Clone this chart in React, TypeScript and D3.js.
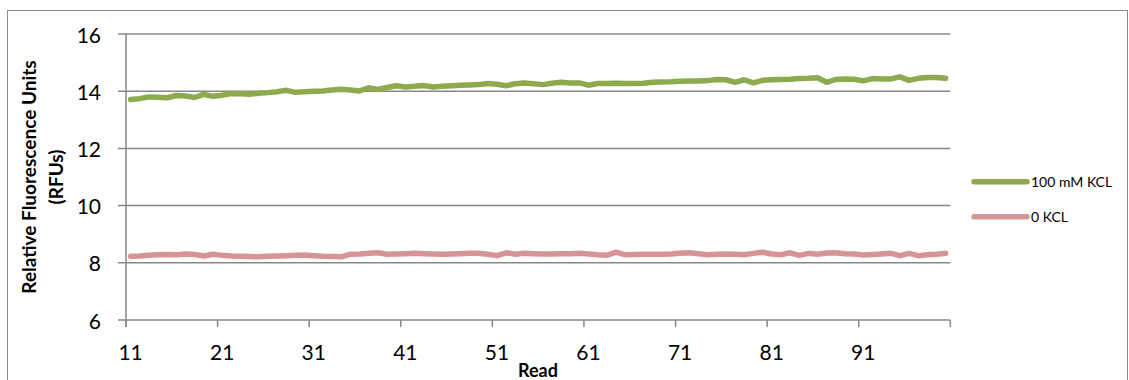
import React from "react";
import * as d3 from "d3";

// Read numbers on the category axis
const reads: number[] = d3.range(11, 101);
const xTickLabels: number[] = [11, 21, 31, 41, 51, 61, 71, 81, 91];
const yTicks: number[] = [6, 8, 10, 12, 14, 16];

const seriesNames = ["100 mM KCL", "0 KCL"];

// Relative fluorescence per read, 100 mM KCL
const kcl100: number[] = [
  13.71, 13.74, 13.8, 13.79, 13.77, 13.85, 13.83, 13.78, 13.89, 13.82,
  13.86, 13.92, 13.91, 13.89, 13.93, 13.95, 13.98, 14.03, 13.96, 13.98,
  14.0, 14.01, 14.04, 14.07, 14.04, 14.01, 14.12, 14.06, 14.13, 14.19,
  14.15, 14.17, 14.2, 14.15, 14.17, 14.19, 14.21, 14.22, 14.23, 14.27,
  14.24, 14.19, 14.26, 14.29, 14.26, 14.23, 14.28, 14.31, 14.29, 14.29,
  14.21, 14.27, 14.27, 14.28, 14.27, 14.27, 14.28, 14.31, 14.32, 14.33,
  14.35, 14.36, 14.36, 14.37, 14.41, 14.4, 14.31, 14.4, 14.29, 14.38,
  14.4, 14.41, 14.42, 14.44, 14.45, 14.47, 14.31, 14.41, 14.43, 14.42,
  14.36, 14.44, 14.43, 14.43, 14.5, 14.38, 14.45, 14.48, 14.48, 14.45,
];

// Relative fluorescence per read, 0 KCL
const kcl0: number[] = [
  8.23, 8.24, 8.26, 8.28, 8.29, 8.28, 8.31, 8.29, 8.24, 8.3,
  8.26, 8.24, 8.23, 8.22, 8.21, 8.23, 8.24, 8.25, 8.26, 8.27,
  8.25, 8.23, 8.22, 8.21, 8.3, 8.31, 8.33, 8.35, 8.3, 8.31,
  8.32, 8.33, 8.32, 8.31, 8.3, 8.31, 8.32, 8.33, 8.33, 8.3,
  8.25, 8.35, 8.3, 8.33, 8.32, 8.31, 8.31, 8.32, 8.32, 8.33,
  8.31, 8.28, 8.26, 8.37, 8.28, 8.29, 8.3, 8.3, 8.3, 8.31,
  8.33, 8.35, 8.32, 8.28, 8.3, 8.31, 8.3, 8.28, 8.33, 8.37,
  8.31, 8.28, 8.35, 8.26, 8.33, 8.3, 8.34, 8.35, 8.32, 8.31,
  8.27, 8.29, 8.31, 8.33, 8.25, 8.33, 8.25, 8.28, 8.3, 8.33,
];

const colors = ["#8DAA4E", "#D69594"];
const gridColor = "#888888";
const font = "Lato, 'Open Sans', sans-serif";

export default function App() {
  const W = 1129;
  const H = 380;
  const left = 126;
  const right = 950.3;
  const top = 34;
  const bottom = 320;

  const x = d3.scaleBand<number>().domain(reads).range([left, right]);
  const bw = x.bandwidth();
  const cx = (r: number) => (x(r) as number) + bw / 2;
  const y = d3.scaleLinear().domain([6, 16]).range([bottom, top]);

  const line = d3
    .line<number>()
    .x((_, i) => cx(reads[i]))
    .y((v) => y(v))
    .curve(d3.curveLinear);

  const series = [kcl100, kcl0];
  // tick boundaries every 10 categories
  const tickBounds = d3.range(0, reads.length + 1, 10).map((k) => left + k * bw);

  return (
    <svg
      width={W}
      height={H}
      style={{ position: "absolute", left: 0, top: 0, background: "#fff" }}
    >
      <rect x={7.5} y={10.5} width={1120} height={380} fill="#fff" stroke="#8a8a8a" strokeWidth={1} />

      {/* horizontal gridlines */}
      {yTicks.map((t) => (
        <line
          key={"g" + t}
          x1={left - 8}
          x2={right}
          y1={y(t)}
          y2={y(t)}
          stroke={gridColor}
          strokeWidth={1.5}
        />
      ))}
      {/* value axis */}
      <line x1={left} x2={left} y1={top} y2={bottom + 7} stroke={gridColor} strokeWidth={1.5} />
      {/* category axis ticks */}
      {tickBounds.map((bx, i) => (
        <line key={"t" + i} x1={bx} x2={bx} y1={bottom} y2={bottom + 7} stroke={gridColor} strokeWidth={1.5} />
      ))}

      {yTicks.map((t) => (
        <text
          key={"yl" + t}
          x={101}
          y={y(t)}
          textAnchor="end"
          dominantBaseline="central"
          fontFamily={font}
          fontSize={21}
          fill="#000"
        >
          {t}
        </text>
      ))}
      {xTickLabels.map((r) => (
        <text
          key={"xl" + r}
          x={cx(r)}
          y={351}
          textAnchor="middle"
          dominantBaseline="central"
          fontFamily={font}
          fontSize={21}
          fill="#000"
        >
          {r}
        </text>
      ))}

      {/* series lines */}
      {series.map((s, i) => (
        <path
          key={"s" + i}
          d={line(s) || ""}
          fill="none"
          stroke={colors[i]}
          strokeWidth={5.5}
          strokeLinecap="round"
          strokeLinejoin="round"
        />
      ))}

      {/* axis titles */}
      <text
        x={538}
        y={377}
        textAnchor="middle"
        fontFamily={font}
        fontWeight="bold"
        fontSize={18}
      >
        Read
      </text>
      <g transform={`translate(28, ${(top + bottom) / 2}) rotate(-90)`}>
        <text textAnchor="middle" dominantBaseline="central" fontFamily={font} fontWeight="bold" fontSize={19}>
          Relative Fluorescence Units
        </text>
      </g>
      <g transform={`translate(55, ${(top + bottom) / 2}) rotate(-90)`}>
        <text textAnchor="middle" dominantBaseline="central" fontFamily={font} fontWeight="bold" fontSize={19}>
          (RFUs)
        </text>
      </g>

      {/* legend */}
      {seriesNames.map((name, i) => {
        const ly = 181.7 + i * 35;
        return (
          <g key={"lg" + i}>
            <line x1={974} x2={1027} y1={ly} y2={ly} stroke={colors[i]} strokeWidth={5.5} strokeLinecap="round" />
            <text x={1031} y={ly} dominantBaseline="central" fontFamily={font} fontSize={14}>
              {name}
            </text>
          </g>
        );
      })}
    </svg>
  );
}
